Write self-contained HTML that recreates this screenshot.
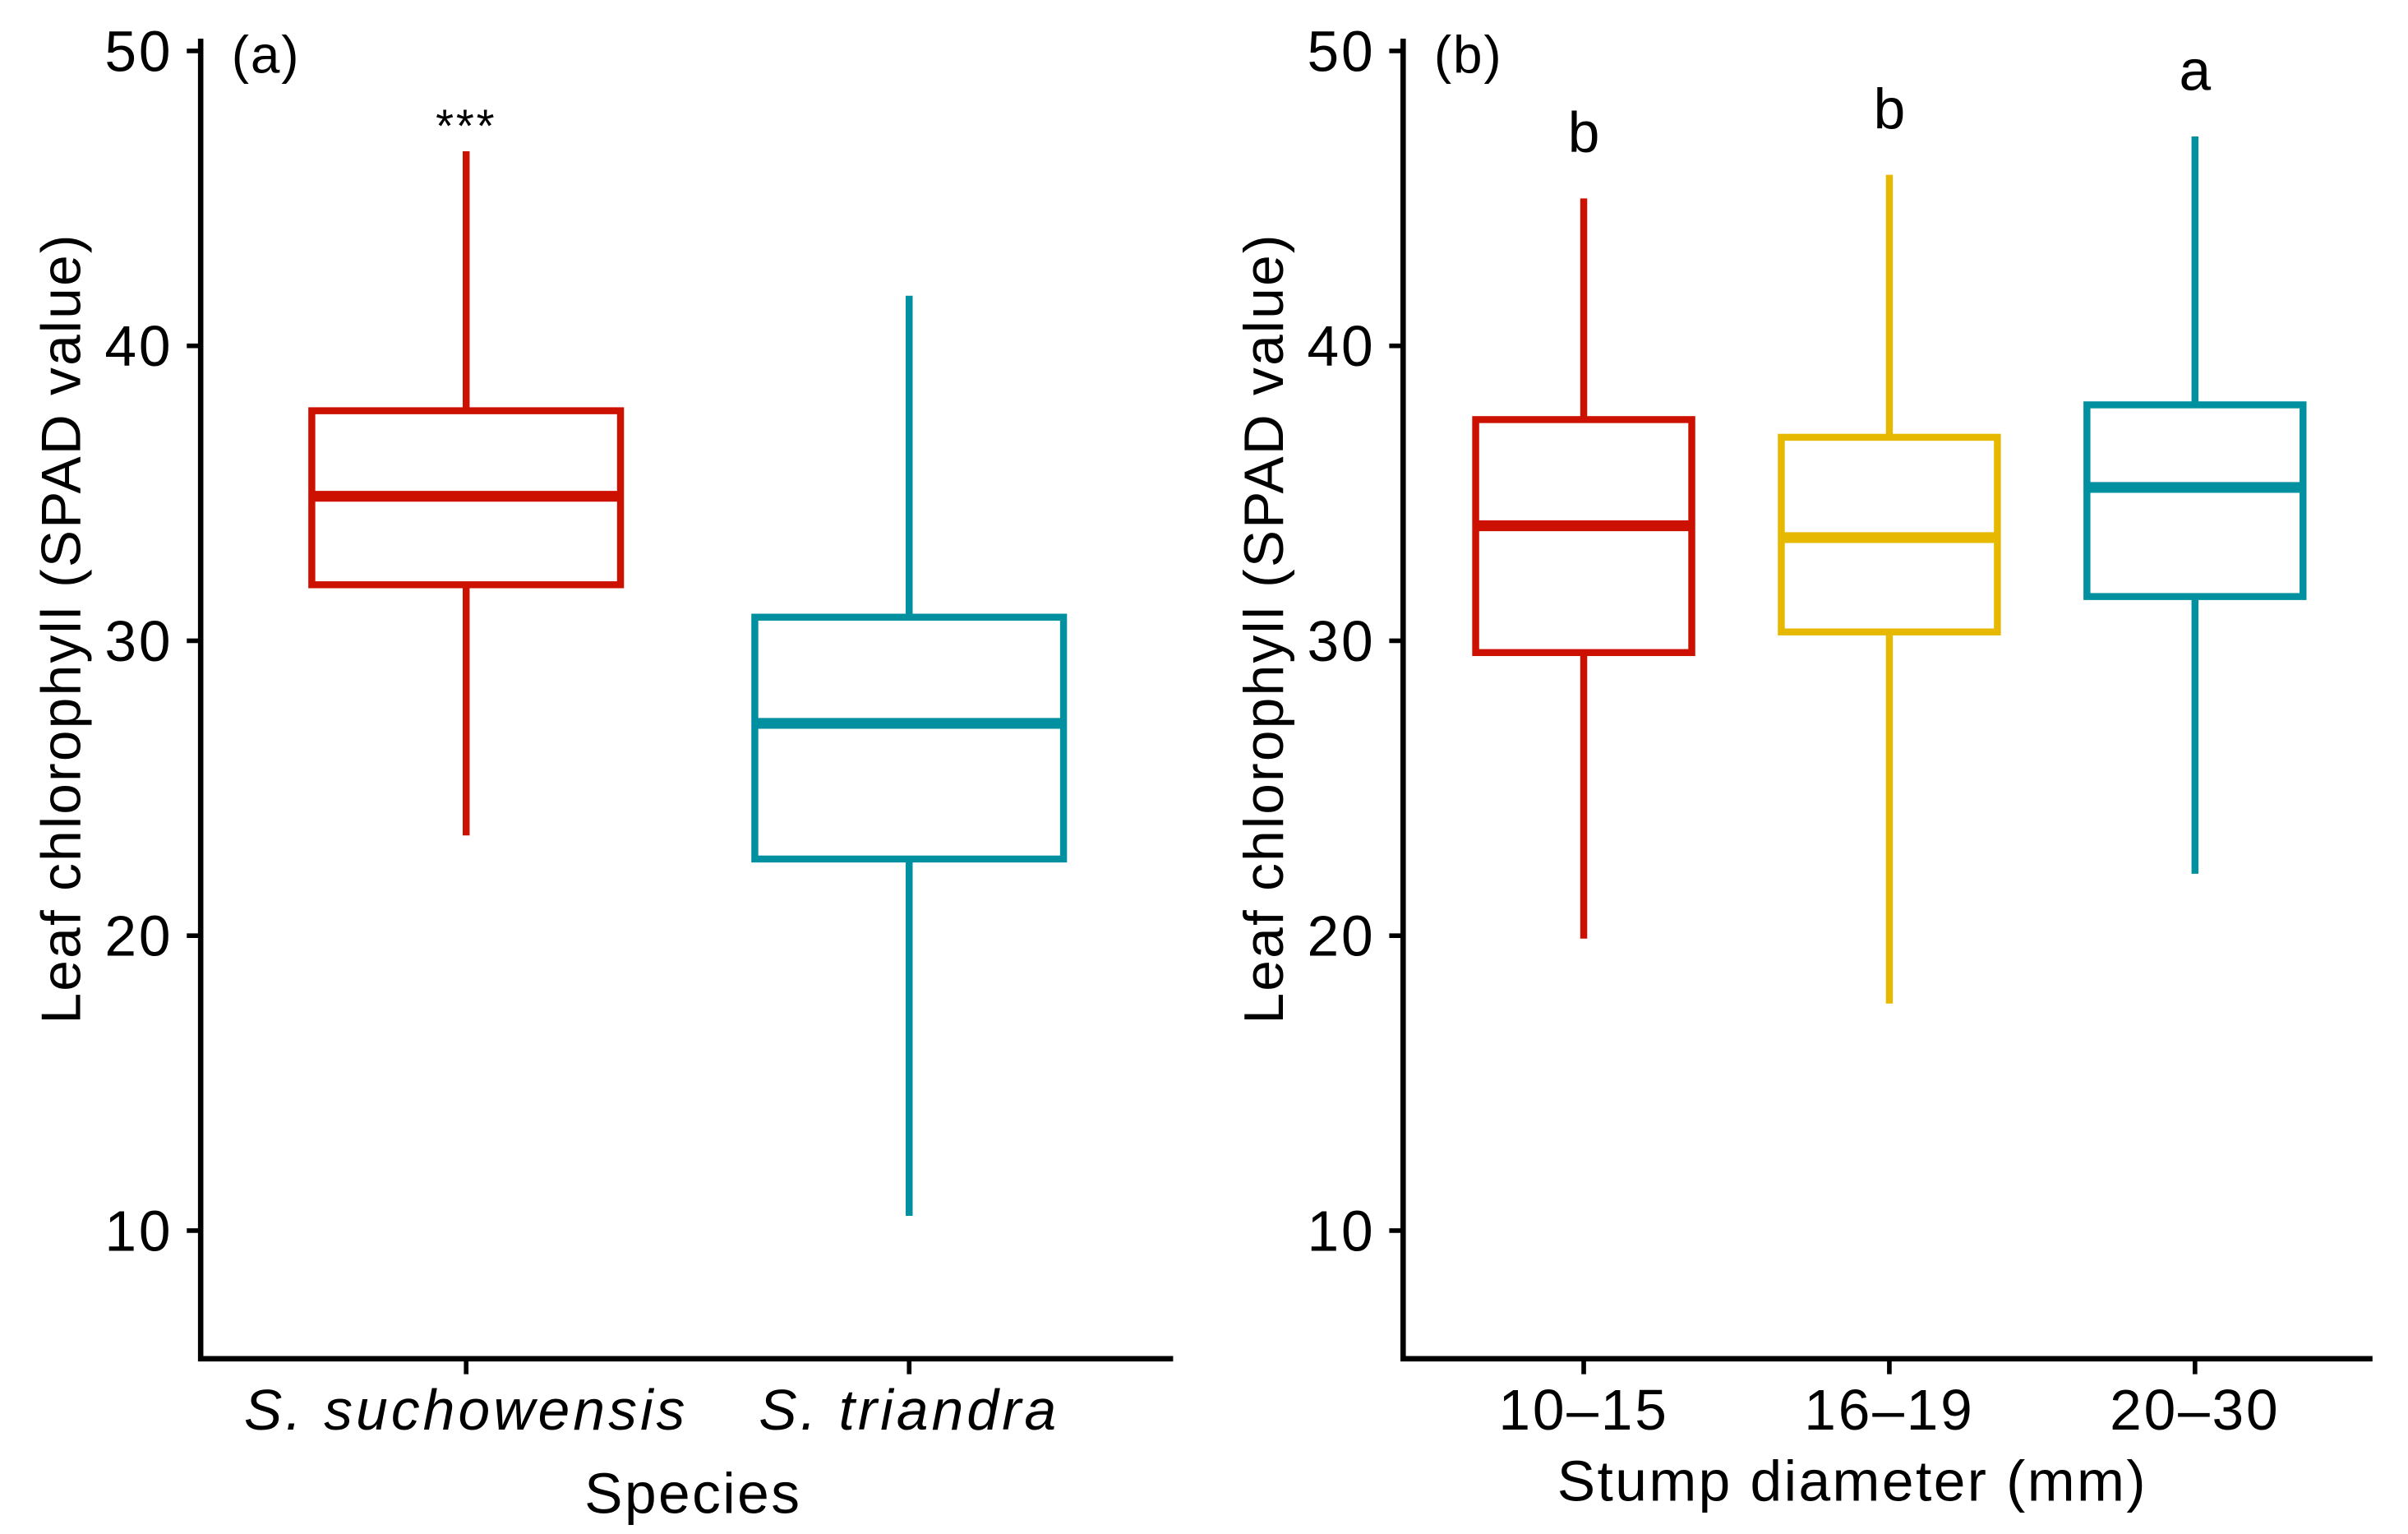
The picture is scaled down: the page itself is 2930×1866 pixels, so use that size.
<!DOCTYPE html>
<html><head><meta charset="utf-8"><style>
html,body{margin:0;padding:0;background:#fff;}
svg{display:block;font-family:"Liberation Sans",Arial,sans-serif;}
</style></head><body>
<svg id="chart" width="2930" height="1866" viewBox="0 0 1560 993.5" xmlns="http://www.w3.org/2000/svg"></svg>
<script>
// Panel (a) data
const catsA = ["S. suchowensis", "S. triandra"];
const lowA  = [23.4, 10.5];
const q1A   = [31.9, 22.6];
const medA  = [34.9, 27.2];
const q3A   = [37.8, 30.8];
const highA = [46.6, 41.7];
const colorsA = ["#CC1100", "#0090A0"];
const sigA = ["***", ""];
// Panel (b) data
const catsB = ["10\u201315", "16\u201319", "20\u201330"];
const lowB  = [19.9, 17.7, 22.1];
const q1B   = [29.6, 30.3, 31.5];
const medB  = [33.9, 33.5, 35.2];
const q3B   = [37.5, 36.9, 38.0];
const highB = [45.0, 45.8, 47.1];
const colorsB = ["#CC1100", "#E6B800", "#0090A0"];
const sigB = ["b", "b", "a"];
const yTicks = [10, 20, 30, 40, 50];

const NS = "http://www.w3.org/2000/svg";
const svg = document.getElementById("chart");
function el(tag, attrs, parent, text){
  const e = document.createElementNS(NS, tag);
  for (const k in attrs) e.setAttribute(k, attrs[k]);
  if (text !== undefined) e.textContent = text;
  (parent || svg).appendChild(e);
  return e;
}
function y(v){ return 33 + (50 - v) * 19.1; }

function panel(o){
  const g = el("g", {});
  
  
  const xs = i => o.x0 + i * o.step;
  const ax = el("path", {d:`M${o.ax},25 V880 H${o.right}`, stroke:"#000", "stroke-width":3.5, fill:"none"}, g);
  
  
  yTicks.forEach(t => {
    const tk = el("line", {x1:o.ax-9, x2:o.ax, y1:y(t), y2:y(t), stroke:"#000", "stroke-width":3}, g);
    
    
    const tl = el("text", {x:o.ax-18, y:y(t)+13, "text-anchor":"end", "font-size":37, "letter-spacing":1.5, fill:"#000"}, g, String(t));
    
    
  });
  const yt = el("text", {transform:`translate(${o.ax-78},${y(30)-8}) rotate(-90)`, "text-anchor":"middle", "font-size":36, "letter-spacing":1.2, fill:"#000"}, g, "Leaf chlorophyll (SPAD value)");
  
  
  const pl = el("text", {x:o.ax+20, y:47, "font-size":34, "letter-spacing":1, fill:"#000"}, g, o.label);
  
  
  o.cats.forEach((c, i) => {
    const x = xs(i), col = o.colors[i], hw = o.hw;
    const tk = el("line", {x1:x, x2:x, y1:880, y2:890, stroke:"#000", "stroke-width":3}, g);
    
    
    const xl = el("text", {x:x, y:926, "text-anchor":"middle", "font-size":37, "letter-spacing":o.italic?2.2:1.5, "font-style":o.italic?"italic":"normal", fill:"#000"}, g, c);
    
    
    const wu = el("line", {x1:x, x2:x, y1:y(o.high[i]), y2:y(o.q3[i]), stroke:col, "stroke-width":4.5}, g);
    
    
    const wl = el("line", {x1:x, x2:x, y1:y(o.q1[i]), y2:y(o.low[i]), stroke:col, "stroke-width":4.5}, g);
    
    
    const bx = el("rect", {x:x-hw, y:y(o.q3[i]), width:2*hw, height:y(o.q1[i])-y(o.q3[i]), fill:"#fff", stroke:col, "stroke-width":4.5}, g);
    
    
    const md = el("line", {x1:x-hw, x2:x+hw, y1:y(o.med[i]), y2:y(o.med[i]), stroke:col, "stroke-width":7}, g);
    
    
    if (o.sig[i]) {
      const isStar = o.sig[i] === "***";
      const s = el("text", {x:x, y:y(o.high[i]) - (isStar ? 6 : 30), "text-anchor":"middle", "font-size":isStar?30:37, "letter-spacing":isStar?1.5:0, fill:"#000"}, g, o.sig[i]);
      
      
    }
  });
  const xt = el("text", {x:o.xtX, y:o.xtY, "text-anchor":"middle", "font-size":37, "letter-spacing":1.3, fill:"#000"}, g, o.xtitle);
  
  
}

panel({name:"panel-a", ax:130, right:760, x0:302, step:287, hw:100, cats:catsA, low:lowA, q1:q1A, med:medA, q3:q3A, high:highA, colors:colorsA, sig:sigA, label:"(a)", italic:true, xtitle:"Species", xtX:449, xtY:980});
panel({name:"panel-b", ax:909, right:1537, x0:1026, step:198, hw:70, cats:catsB, low:lowB, q1:q1B, med:medB, q3:q3B, high:highB, colors:colorsB, sig:sigB, label:"(b)", italic:false, xtitle:"Stump diameter (mm)", xtX:1200, xtY:972});
</script>
</body></html>
